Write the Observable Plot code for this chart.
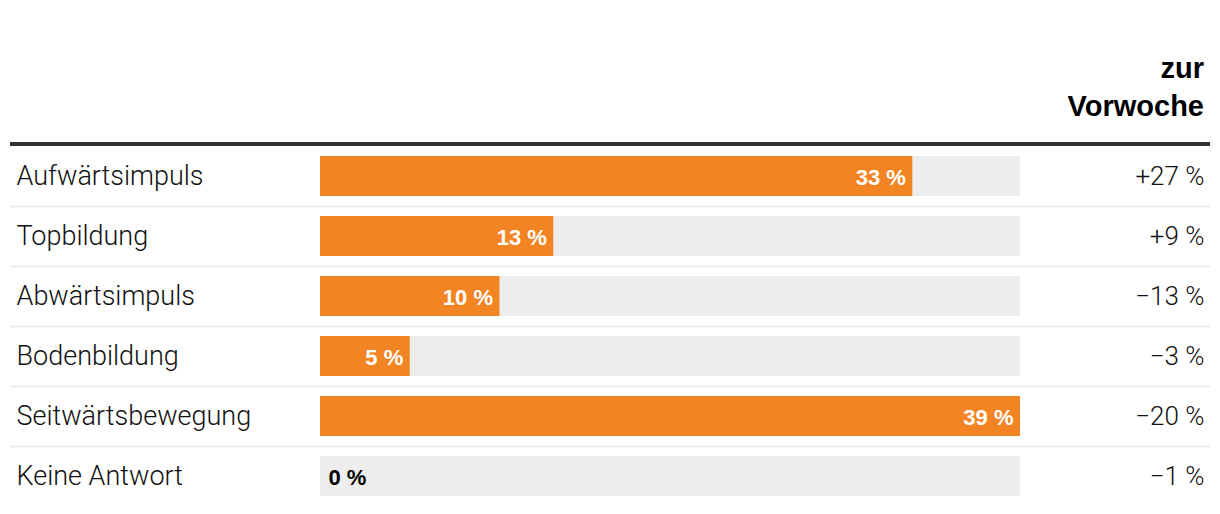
<!DOCTYPE html>
<html>
<head>
<meta charset="utf-8">
<script src="https://cdn.jsdelivr.net/npm/d3@7"></script>
<script src="https://cdn.jsdelivr.net/npm/@observablehq/plot@0.6"></script>
<style>
  html, body { margin: 0; padding: 0; background: #fff; }
  #wrap { width: 1220px; height: 514px; overflow: hidden; }
  #head {
    box-sizing: border-box;
    height: 146px;
    margin: 0 10px;
    border-bottom: 4px solid #333;
    display: flex; flex-direction: column; justify-content: flex-end;
    text-align: right;
    padding: 0 6px 17px 0;
    font-family: "Liberation Sans", Arial, sans-serif;
    font-weight: bold;
    font-size: 29px;
    line-height: 38px;
    color: #000;
  }
  svg { display: block; }
</style>
</head>
<body>
<div id="wrap">
  <div id="head"><div>zur</div><div>Vorwoche</div></div>
  <div id="chart"></div>
</div>
<script>
const categories = ["Aufwärtsimpuls", "Topbildung", "Abwärtsimpuls", "Bodenbildung", "Seitwärtsbewegung", "Keine Antwort"];
const shares = [33, 13, 10, 5, 39, 0];
const changeLabels = ["+27 %", "+9 %", "\u221213 %", "\u22123 %", "\u221220 %", "\u22121 %"];

const data = categories.map((c, i) => ({category: c, share: shares[i], change: changeLabels[i]}));
const maxShare = d3.max(shares);
const fmt = v => `${v} %`;

const chart = Plot.plot({
  width: 1220,
  height: 368,
  marginTop: 0,
  marginBottom: 8,
  marginLeft: 10,
  marginRight: 10,
  x: {domain: [0, maxShare], range: [320, 1020], axis: null},
  y: {domain: categories, padding: 0, axis: null},
  marks: [
    Plot.ruleY(data.slice(0, -1), {y: "category", dy: 30, stroke: "#eeede8", strokeWidth: 2}),
    Plot.barX(data, {y: "category", x1: 0, x2: () => maxShare, fill: "#ededed", insetTop: 10, insetBottom: 10}),
    Plot.barX(data, {y: "category", x: "share", fill: "#f38423", insetTop: 10, insetBottom: 10}),
    Plot.text(data.filter(d => d.share > 0), {y: "category", x: "share", text: d => fmt(d.share), textAnchor: "end", dx: -7, dy: 1, fill: "#fff", fontWeight: "bold", fontSize: 22, fontFamily: "Liberation Sans, Arial, sans-serif"}),
    Plot.text(data.filter(d => d.share === 0), {y: "category", x: "share", text: d => fmt(d.share), textAnchor: "start", dx: 8, dy: 1, fill: "#000", fontWeight: "bold", fontSize: 22, fontFamily: "Liberation Sans, Arial, sans-serif"}),
    Plot.text(data, {y: "category", text: "category", frameAnchor: "left", textAnchor: "start", dx: 6, fill: "#111", fontSize: 27, fontWeight: 300, fontFamily: "Roboto, sans-serif"}),
    Plot.text(data, {y: "category", text: "change", frameAnchor: "right", textAnchor: "end", dx: -6, fill: "#111", fontSize: 26, fontWeight: 300, fontFamily: "Roboto, sans-serif"})
  ]
});
document.getElementById("chart").appendChild(chart);
</script>
</body>
</html>
